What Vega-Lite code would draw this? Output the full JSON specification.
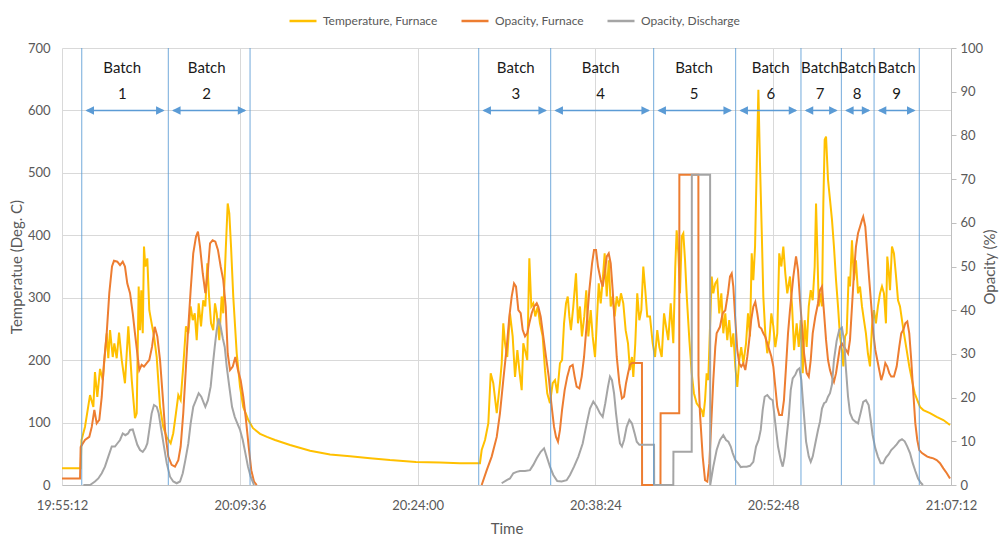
{
  "$schema": "https://vega.github.io/schema/vega-lite/v6.json",
  "width": 889,
  "height": 437,
  "autosize": {"type": "none"},
  "padding": {"left": 62, "top": 48, "right": 48, "bottom": 55},
  "background": "white",
  "config": {
    "view": {"stroke": null},
    "font": "Lato",
    "axis": {
      "labelFont": "Lato",
      "titleFont": "Lato",
      "labelColor": "#595959",
      "titleColor": "#595959",
      "titleFontWeight": "normal",
      "labelFontSize": 13,
      "titleFontSize": 15,
      "gridColor": "#d9d9d9",
      "domainColor": "#bfbfbf",
      "tickColor": "#bfbfbf"
    }
  },
  "datasets": {
    "temp": [
      {"t":0,"v":27},{"t":1.51,"v":27},{"t":1.58,"v":72},{"t":1.86,"v":93},{"t":2.27,"v":144},{"t":2.54,"v":125},{"t":2.67,"v":181},{"t":2.86,"v":141},{"t":3.08,"v":186},{"t":3.30,"v":168},{"t":3.48,"v":211},{"t":3.62,"v":243},{"t":3.75,"v":203},{"t":3.89,"v":248},{"t":4.11,"v":205},{"t":4.24,"v":227},{"t":4.43,"v":203},{"t":4.62,"v":244},{"t":4.84,"v":200},{"t":5.10,"v":163},{"t":5.37,"v":254},{"t":5.65,"v":168},{"t":5.91,"v":107},{"t":6.05,"v":115},{"t":6.21,"v":318},{"t":6.32,"v":248},{"t":6.42,"v":312},{"t":6.54,"v":243},{"t":6.64,"v":382},{"t":6.75,"v":350},{"t":6.91,"v":363},{"t":7.07,"v":280},{"t":7.26,"v":259},{"t":7.45,"v":238},{"t":7.67,"v":205},{"t":7.94,"v":125},{"t":8.20,"v":93},{"t":8.48,"v":77},{"t":8.80,"v":67},{"t":9.01,"v":83},{"t":9.23,"v":115},{"t":9.42,"v":144},{"t":9.61,"v":136},{"t":9.82,"v":190},{"t":10.04,"v":254},{"t":10.23,"v":243},{"t":10.42,"v":286},{"t":10.59,"v":264},{"t":10.75,"v":275},{"t":10.91,"v":232},{"t":11.07,"v":291},{"t":11.26,"v":254},{"t":11.44,"v":296},{"t":11.61,"v":286},{"t":11.77,"v":355},{"t":11.91,"v":302},{"t":12.07,"v":259},{"t":12.25,"v":248},{"t":12.39,"v":291},{"t":12.53,"v":275},{"t":12.74,"v":232},{"t":12.93,"v":302},{"t":13.06,"v":275},{"t":13.26,"v":376},{"t":13.42,"v":451},{"t":13.55,"v":435},{"t":13.69,"v":382},{"t":13.87,"v":302},{"t":14.15,"v":211},{"t":14.42,"v":157},{"t":14.68,"v":125},{"t":15.09,"v":104},{"t":15.47,"v":91},{"t":16.04,"v":82},{"t":16.60,"v":77},{"t":17.25,"v":72},{"t":18.47,"v":64},{"t":20.09,"v":55},{"t":21.71,"v":49},{"t":23.33,"v":46},{"t":24.95,"v":43},{"t":26.56,"v":40},{"t":28.67,"v":37},{"t":30.61,"v":36},{"t":32.23,"v":35},{"t":33.85,"v":35},
      {"t":33.99,"v":56},{"t":34.26,"v":72},{"t":34.53,"v":99},{"t":34.72,"v":179},{"t":34.93,"v":163},{"t":35.21,"v":115},{"t":35.47,"v":163},{"t":35.61,"v":195},{"t":35.74,"v":259},{"t":35.88,"v":227},{"t":36.06,"v":205},{"t":36.28,"v":275},{"t":36.50,"v":238},{"t":36.69,"v":173},{"t":36.88,"v":216},{"t":37.04,"v":184},{"t":37.23,"v":152},{"t":37.36,"v":227},{"t":37.50,"v":216},{"t":37.68,"v":200},{"t":37.85,"v":363},{"t":38.01,"v":286},{"t":38.17,"v":291},{"t":38.33,"v":270},{"t":38.53,"v":286},{"t":38.71,"v":259},{"t":38.93,"v":238},{"t":39.12,"v":184},{"t":39.30,"v":147},{"t":39.52,"v":131},{"t":39.74,"v":163},{"t":39.93,"v":168},{"t":40.11,"v":147},{"t":40.33,"v":195},{"t":40.50,"v":200},{"t":40.66,"v":259},{"t":40.82,"v":291},{"t":40.96,"v":302},{"t":41.09,"v":270},{"t":41.22,"v":248},{"t":41.41,"v":286},{"t":41.63,"v":339},{"t":41.79,"v":259},{"t":41.95,"v":286},{"t":42.11,"v":238},{"t":42.30,"v":270},{"t":42.46,"v":312},{"t":42.63,"v":238},{"t":42.82,"v":280},{"t":42.98,"v":238},{"t":43.17,"v":205},{"t":43.31,"v":259},{"t":43.47,"v":323},{"t":43.63,"v":291},{"t":43.79,"v":328},{"t":43.95,"v":371},{"t":44.12,"v":302},{"t":44.28,"v":360},{"t":44.44,"v":286},{"t":44.60,"v":302},{"t":44.76,"v":270},{"t":44.93,"v":302},{"t":45.11,"v":286},{"t":45.27,"v":307},{"t":45.46,"v":291},{"t":45.65,"v":248},{"t":45.84,"v":227},{"t":46.00,"v":184},{"t":46.16,"v":205},{"t":46.27,"v":173},{"t":46.43,"v":227},{"t":46.59,"v":307},{"t":46.76,"v":264},{"t":46.92,"v":280},{"t":47.08,"v":350},{"t":47.24,"v":312},{"t":47.40,"v":270},{"t":47.62,"v":270},{"t":47.84,"v":227},{"t":48.03,"v":205},{"t":48.21,"v":248},{"t":48.38,"v":221},{"t":48.57,"v":205},{"t":48.76,"v":275},{"t":48.92,"v":254},{"t":49.10,"v":232},{"t":49.30,"v":291},{"t":49.51,"v":227},{"t":49.67,"v":350},{"t":49.78,"v":408},{"t":49.92,"v":371},{"t":50.05,"v":307},{"t":50.19,"v":398},{"t":50.32,"v":403},{"t":50.46,"v":360},{"t":50.60,"v":302},{"t":50.81,"v":232},{"t":51.00,"v":179},{"t":51.18,"v":147},{"t":51.40,"v":131},{"t":51.61,"v":125},{"t":51.81,"v":120},{"t":51.94,"v":109},{"t":52.08,"v":136},{"t":52.21,"v":179},{"t":52.34,"v":168},{"t":52.62,"v":334},{"t":52.75,"v":307},{"t":52.91,"v":323},{"t":53.07,"v":328},{"t":53.23,"v":275},{"t":53.40,"v":307},{"t":53.56,"v":243},{"t":53.72,"v":275},{"t":53.88,"v":232},{"t":54.04,"v":264},{"t":54.21,"v":221},{"t":54.37,"v":243},{"t":54.53,"v":190},{"t":54.69,"v":157},{"t":54.85,"v":200},{"t":55.01,"v":221},{"t":55.18,"v":195},{"t":55.40,"v":227},{"t":55.56,"v":275},{"t":55.72,"v":238},{"t":55.86,"v":371},{"t":55.99,"v":328},{"t":56.13,"v":382},{"t":56.27,"v":515},{"t":56.40,"v":633},{"t":56.53,"v":515},{"t":56.67,"v":408},{"t":56.80,"v":302},{"t":56.96,"v":243},{"t":57.12,"v":211},{"t":57.29,"v":232},{"t":57.45,"v":275},{"t":57.61,"v":254},{"t":57.77,"v":221},{"t":57.93,"v":243},{"t":58.09,"v":371},{"t":58.26,"v":350},{"t":58.42,"v":382},{"t":58.58,"v":339},{"t":58.74,"v":307},{"t":58.96,"v":334},{"t":59.13,"v":286},{"t":59.29,"v":216},{"t":59.50,"v":259},{"t":59.67,"v":221},{"t":59.83,"v":264},{"t":59.99,"v":179},{"t":60.15,"v":264},{"t":60.31,"v":221},{"t":60.48,"v":286},{"t":60.64,"v":312},{"t":60.80,"v":296},{"t":60.96,"v":350},{"t":61.07,"v":451},{"t":61.18,"v":371},{"t":61.29,"v":286},{"t":61.40,"v":307},{"t":61.55,"v":286},{"t":61.66,"v":451},{"t":61.77,"v":553},{"t":61.88,"v":558},{"t":62.04,"v":489},{"t":62.20,"v":457},{"t":62.36,"v":425},{"t":62.52,"v":382},{"t":62.69,"v":328},{"t":62.85,"v":286},{"t":63.01,"v":238},{"t":63.17,"v":216},{"t":63.28,"v":190},{"t":63.42,"v":238},{"t":63.55,"v":243},{"t":63.71,"v":334},{"t":63.82,"v":318},{"t":63.98,"v":392},{"t":64.14,"v":328},{"t":64.30,"v":360},{"t":64.47,"v":307},{"t":64.63,"v":318},{"t":64.79,"v":286},{"t":64.95,"v":264},{"t":65.11,"v":243},{"t":65.27,"v":211},{"t":65.44,"v":190},{"t":65.60,"v":254},{"t":65.76,"v":280},{"t":65.92,"v":259},{"t":66.08,"v":286},{"t":66.25,"v":307},{"t":66.41,"v":318},{"t":66.57,"v":307},{"t":66.73,"v":259},{"t":66.84,"v":366},{"t":66.95,"v":344},{"t":67.06,"v":312},{"t":67.22,"v":382},{"t":67.38,"v":371},{"t":67.55,"v":334},{"t":67.71,"v":296},{"t":67.87,"v":286},{"t":68.03,"v":264},{"t":68.19,"v":243},{"t":68.41,"v":216},{"t":68.62,"v":190},{"t":68.84,"v":168},{"t":69.06,"v":147},{"t":69.27,"v":136},{"t":69.49,"v":125},{"t":69.76,"v":120},{"t":70.30,"v":115},{"t":70.84,"v":109},{"t":71.38,"v":104},{"t":71.92,"v":96}
    ],
    "opf": [
      {"t":0,"v":1.5,"g":1},{"t":1.46,"v":1.5,"g":1},{"t":1.51,"v":8.7,"g":1},{"t":1.86,"v":10.3,"g":1},{"t":2.21,"v":11,"g":1},{"t":2.41,"v":13.3,"g":1},{"t":2.62,"v":17.2,"g":1},{"t":2.81,"v":14.1,"g":1},{"t":3.02,"v":14.9,"g":1},{"t":3.22,"v":20.2,"g":1},{"t":3.40,"v":27.9,"g":1},{"t":3.62,"v":34.7,"g":1},{"t":3.83,"v":43.9,"g":1},{"t":4.05,"v":50,"g":1},{"t":4.21,"v":51.3,"g":1},{"t":4.48,"v":51.1,"g":1},{"t":4.70,"v":50.3,"g":1},{"t":4.92,"v":51.1,"g":1},{"t":5.10,"v":50,"g":1},{"t":5.29,"v":46.1,"g":1},{"t":5.51,"v":43.9,"g":1},{"t":5.73,"v":39.3,"g":1},{"t":5.91,"v":34.7,"g":1},{"t":6.10,"v":30.1,"g":1},{"t":6.26,"v":26.3,"g":1},{"t":6.45,"v":27.5,"g":1},{"t":6.64,"v":27.1,"g":1},{"t":6.86,"v":27.9,"g":1},{"t":7.07,"v":28.6,"g":1},{"t":7.29,"v":31.6,"g":1},{"t":7.51,"v":36.2,"g":1},{"t":7.72,"v":34,"g":1},{"t":7.94,"v":28.6,"g":1},{"t":8.16,"v":20.2,"g":1},{"t":8.37,"v":11.8,"g":1},{"t":8.61,"v":6.5,"g":1},{"t":8.88,"v":4.6,"g":1},{"t":9.15,"v":4.2,"g":1},{"t":9.42,"v":5.7,"g":1},{"t":9.61,"v":8.8,"g":1},{"t":9.82,"v":16.4,"g":1},{"t":10.04,"v":27.1,"g":1},{"t":10.23,"v":36.2,"g":1},{"t":10.42,"v":44.6,"g":1},{"t":10.63,"v":53,"g":1},{"t":10.85,"v":56.8,"g":1},{"t":11.01,"v":58,"g":1},{"t":11.18,"v":54.5,"g":1},{"t":11.40,"v":48.4,"g":1},{"t":11.61,"v":43.9,"g":1},{"t":11.82,"v":49.2,"g":1},{"t":11.99,"v":55.3,"g":1},{"t":12.20,"v":56,"g":1},{"t":12.42,"v":55.7,"g":1},{"t":12.63,"v":53.8,"g":1},{"t":12.85,"v":50,"g":1},{"t":13.06,"v":46.9,"g":1},{"t":13.26,"v":40.8,"g":1},{"t":13.42,"v":30.1,"g":1},{"t":13.61,"v":26.3,"g":1},{"t":13.83,"v":27.1,"g":1},{"t":14.04,"v":29.3,"g":1},{"t":14.25,"v":26.3,"g":1},{"t":14.47,"v":24,"g":1},{"t":14.68,"v":20.2,"g":1},{"t":14.90,"v":14.9,"g":1},{"t":15.12,"v":8.8,"g":1},{"t":15.33,"v":3.4,"g":1},{"t":15.55,"v":0.8,"g":1},{"t":15.77,"v":0,"g":1},
      {"t":33.99,"v":0,"g":2},{"t":34.40,"v":3.4,"g":2},{"t":34.80,"v":6.5,"g":2},{"t":35.21,"v":11,"g":2},{"t":35.47,"v":16.4,"g":2},{"t":35.74,"v":24,"g":2},{"t":36.02,"v":31.6,"g":2},{"t":36.23,"v":38.5,"g":2},{"t":36.42,"v":43.1,"g":2},{"t":36.61,"v":46.1,"g":2},{"t":36.77,"v":45.4,"g":2},{"t":36.96,"v":40,"g":2},{"t":37.15,"v":39.3,"g":2},{"t":37.31,"v":35.5,"g":2},{"t":37.50,"v":34,"g":2},{"t":37.68,"v":34.7,"g":2},{"t":37.85,"v":37,"g":2},{"t":38.04,"v":39.3,"g":2},{"t":38.23,"v":40.8,"g":2},{"t":38.45,"v":41.6,"g":2},{"t":38.58,"v":40.8,"g":2},{"t":38.77,"v":38.5,"g":2},{"t":38.98,"v":34,"g":2},{"t":39.20,"v":29.3,"g":2},{"t":39.42,"v":24.8,"g":2},{"t":39.63,"v":18.7,"g":2},{"t":39.85,"v":13.3,"g":2},{"t":40.01,"v":11,"g":2},{"t":40.17,"v":9.9,"g":2},{"t":40.33,"v":12.6,"g":2},{"t":40.50,"v":17.2,"g":2},{"t":40.71,"v":21.7,"g":2},{"t":40.92,"v":24.8,"g":2},{"t":41.14,"v":27.1,"g":2},{"t":41.36,"v":27.5,"g":2},{"t":41.52,"v":24.8,"g":2},{"t":41.68,"v":22.5,"g":2},{"t":41.90,"v":22.1,"g":2},{"t":42.09,"v":24.8,"g":2},{"t":42.28,"v":29.3,"g":2},{"t":42.50,"v":37,"g":2},{"t":42.71,"v":44.6,"g":2},{"t":42.93,"v":50.7,"g":2},{"t":43.09,"v":53.8,"g":2},{"t":43.25,"v":53.8,"g":2},{"t":43.41,"v":50,"g":2},{"t":43.63,"v":46.9,"g":2},{"t":43.79,"v":45.4,"g":2},{"t":43.95,"v":48.4,"g":2},{"t":44.12,"v":52.3,"g":2},{"t":44.28,"v":53,"g":2},{"t":44.44,"v":50.7,"g":2},{"t":44.60,"v":44.6,"g":2},{"t":44.76,"v":37,"g":2},{"t":44.93,"v":29.3,"g":2},{"t":45.14,"v":23.3,"g":2},{"t":45.35,"v":19.8,"g":2},{"t":45.52,"v":20.2,"g":2},{"t":45.68,"v":23.3,"g":2},{"t":45.84,"v":25.5,"g":2},{"t":46.00,"v":27.5,"g":2},{"t":46.16,"v":27.9,"g":2},{"t":46.97,"v":27.9,"g":2},{"t":46.98,"v":0,"g":2},{"t":48.47,"v":0,"g":2},{"t":48.48,"v":16.4,"g":2},{"t":49.99,"v":16.4,"g":2},{"t":50.00,"v":71,"g":2},{"t":51.54,"v":71,"g":2},{"t":51.55,"v":25,"g":2},{"t":51.67,"v":16.4,"g":2},{"t":51.89,"v":6.5,"g":2},{"t":52.08,"v":1.1,"g":2},{"t":52.26,"v":0.8,"g":2},{"t":52.43,"v":5,"g":2},{"t":52.62,"v":16.4,"g":2},{"t":52.75,"v":24,"g":2},{"t":52.91,"v":31.6,"g":2},{"t":53.02,"v":34.7,"g":2},{"t":53.29,"v":36.2,"g":2},{"t":53.51,"v":39.3,"g":2},{"t":53.72,"v":40,"g":2},{"t":53.94,"v":43.9,"g":2},{"t":54.10,"v":47.7,"g":2},{"t":54.24,"v":48.4,"g":2},{"t":54.37,"v":45.4,"g":2},{"t":54.53,"v":37.8,"g":2},{"t":54.69,"v":30.9,"g":2},{"t":54.85,"v":27.8,"g":2},{"t":55.01,"v":27.1,"g":2},{"t":55.18,"v":27.8,"g":2},{"t":55.34,"v":26.3,"g":2},{"t":55.50,"v":29.3,"g":2},{"t":55.66,"v":33.2,"g":2},{"t":55.82,"v":37.8,"g":2},{"t":55.99,"v":40.8,"g":2},{"t":56.15,"v":41.9,"g":2},{"t":56.31,"v":39.3,"g":2},{"t":56.47,"v":36.2,"g":2},{"t":56.64,"v":35.8,"g":2},{"t":56.80,"v":34.7,"g":2},{"t":56.96,"v":33.9,"g":2},{"t":57.12,"v":32.4,"g":2},{"t":57.29,"v":30.9,"g":2},{"t":57.45,"v":29.4,"g":2},{"t":57.61,"v":27.1,"g":2},{"t":57.77,"v":22.5,"g":2},{"t":57.93,"v":17.9,"g":2},{"t":58.09,"v":16,"g":2},{"t":58.31,"v":16,"g":2},{"t":58.47,"v":19.4,"g":2},{"t":58.64,"v":27.1,"g":2},{"t":58.80,"v":34.7,"g":2},{"t":58.96,"v":40,"g":2},{"t":59.23,"v":47.7,"g":2},{"t":59.45,"v":52.3,"g":2},{"t":59.61,"v":49.2,"g":2},{"t":59.77,"v":42.3,"g":2},{"t":59.94,"v":36.2,"g":2},{"t":60.10,"v":30.1,"g":2},{"t":60.31,"v":25.6,"g":2},{"t":60.48,"v":24.8,"g":2},{"t":60.64,"v":28.6,"g":2},{"t":60.80,"v":34.7,"g":2},{"t":61.01,"v":38.5,"g":2},{"t":61.23,"v":41.6,"g":2},{"t":61.39,"v":44.6,"g":2},{"t":61.55,"v":45.4,"g":2},{"t":61.72,"v":39.3,"g":2},{"t":61.88,"v":33.2,"g":2},{"t":62.04,"v":28.6,"g":2},{"t":62.20,"v":26.3,"g":2},{"t":62.36,"v":24.8,"g":2},{"t":62.52,"v":23.6,"g":2},{"t":62.69,"v":25.6,"g":2},{"t":62.85,"v":28.6,"g":2},{"t":63.01,"v":31.6,"g":2},{"t":63.17,"v":32.4,"g":2},{"t":63.34,"v":31.6,"g":2},{"t":63.50,"v":30.9,"g":2},{"t":63.66,"v":30.1,"g":2},{"t":63.82,"v":33.2,"g":2},{"t":63.98,"v":40.8,"g":2},{"t":64.14,"v":48.4,"g":2},{"t":64.30,"v":54.5,"g":2},{"t":64.47,"v":57.6,"g":2},{"t":64.63,"v":59.1,"g":2},{"t":64.79,"v":60.6,"g":2},{"t":64.89,"v":61.4,"g":2},{"t":65.06,"v":59.1,"g":2},{"t":65.22,"v":53,"g":2},{"t":65.38,"v":46.9,"g":2},{"t":65.55,"v":40.8,"g":2},{"t":65.71,"v":34.7,"g":2},{"t":65.87,"v":30.9,"g":2},{"t":66.03,"v":28.6,"g":2},{"t":66.19,"v":26.3,"g":2},{"t":66.35,"v":24,"g":2},{"t":66.52,"v":25.6,"g":2},{"t":66.68,"v":27.9,"g":2},{"t":66.84,"v":27.1,"g":2},{"t":67.00,"v":25.6,"g":2},{"t":67.16,"v":24.8,"g":2},{"t":67.38,"v":24.8,"g":2},{"t":67.60,"v":27.1,"g":2},{"t":67.81,"v":31.6,"g":2},{"t":67.97,"v":34.7,"g":2},{"t":68.14,"v":35.5,"g":2},{"t":68.30,"v":37,"g":2},{"t":68.46,"v":37.4,"g":2},{"t":68.62,"v":34.7,"g":2},{"t":68.78,"v":28.6,"g":2},{"t":68.95,"v":21,"g":2},{"t":69.11,"v":14.1,"g":2},{"t":69.27,"v":10.3,"g":2},{"t":69.43,"v":8,"g":2},{"t":69.65,"v":7.3,"g":2},{"t":69.87,"v":6.9,"g":2},{"t":70.08,"v":6.5,"g":2},{"t":70.30,"v":6.3,"g":2},{"t":70.57,"v":6.1,"g":2},{"t":70.84,"v":5.7,"g":2},{"t":71.11,"v":5,"g":2},{"t":71.38,"v":3.8,"g":2},{"t":71.66,"v":2.7,"g":2},{"t":71.92,"v":1.5,"g":2}
    ],
    "opd": [
      {"t":1.73,"v":0,"g":1},{"t":2.27,"v":0,"g":1},{"t":2.67,"v":0.8,"g":1},{"t":2.94,"v":1.5,"g":1},{"t":3.22,"v":2.7,"g":1},{"t":3.48,"v":4.2,"g":1},{"t":3.75,"v":6.5,"g":1},{"t":4.03,"v":8.8,"g":1},{"t":4.29,"v":8.8,"g":1},{"t":4.48,"v":9.5,"g":1},{"t":4.70,"v":10.3,"g":1},{"t":4.92,"v":11.8,"g":1},{"t":5.13,"v":11.4,"g":1},{"t":5.35,"v":11.8,"g":1},{"t":5.51,"v":12.6,"g":1},{"t":5.73,"v":12.7,"g":1},{"t":5.91,"v":11,"g":1},{"t":6.10,"v":9.2,"g":1},{"t":6.32,"v":8,"g":1},{"t":6.54,"v":7.6,"g":1},{"t":6.75,"v":8.4,"g":1},{"t":6.91,"v":9.5,"g":1},{"t":7.07,"v":12.6,"g":1},{"t":7.26,"v":16.4,"g":1},{"t":7.45,"v":18.3,"g":1},{"t":7.67,"v":17.9,"g":1},{"t":7.83,"v":16.4,"g":1},{"t":8.04,"v":12.6,"g":1},{"t":8.26,"v":8.8,"g":1},{"t":8.48,"v":5,"g":1},{"t":8.75,"v":1.9,"g":1},{"t":9.01,"v":0.8,"g":1},{"t":9.29,"v":0.4,"g":1},{"t":9.56,"v":0.8,"g":1},{"t":9.78,"v":2.7,"g":1},{"t":9.99,"v":5.7,"g":1},{"t":10.23,"v":9.5,"g":1},{"t":10.42,"v":14.1,"g":1},{"t":10.63,"v":17.9,"g":1},{"t":10.85,"v":19.4,"g":1},{"t":11.07,"v":21,"g":1},{"t":11.28,"v":20.2,"g":1},{"t":11.44,"v":19.1,"g":1},{"t":11.61,"v":17.9,"g":1},{"t":11.82,"v":19.4,"g":1},{"t":12.04,"v":22.5,"g":1},{"t":12.20,"v":27.1,"g":1},{"t":12.37,"v":31.6,"g":1},{"t":12.53,"v":35.5,"g":1},{"t":12.69,"v":38.1,"g":1},{"t":12.85,"v":36.2,"g":1},{"t":13.02,"v":33.6,"g":1},{"t":13.18,"v":31.6,"g":1},{"t":13.34,"v":27.1,"g":1},{"t":13.55,"v":22.5,"g":1},{"t":13.77,"v":17.9,"g":1},{"t":13.99,"v":15.6,"g":1},{"t":14.20,"v":14.1,"g":1},{"t":14.42,"v":12.6,"g":1},{"t":14.64,"v":10.3,"g":1},{"t":14.85,"v":7.3,"g":1},{"t":15.06,"v":4.2,"g":1},{"t":15.28,"v":1.9,"g":1},{"t":15.44,"v":0.8,"g":1},{"t":15.55,"v":0,"g":1},
      {"t":35.61,"v":0.4,"g":2},{"t":36.02,"v":1.1,"g":2},{"t":36.28,"v":1.5,"g":2},{"t":36.55,"v":2.7,"g":2},{"t":36.82,"v":3,"g":2},{"t":37.09,"v":3.2,"g":2},{"t":37.50,"v":3.2,"g":2},{"t":37.90,"v":3.4,"g":2},{"t":38.17,"v":4.6,"g":2},{"t":38.45,"v":6.1,"g":2},{"t":38.77,"v":7.6,"g":2},{"t":39.04,"v":8.4,"g":2},{"t":39.26,"v":6.5,"g":2},{"t":39.52,"v":4.2,"g":2},{"t":39.79,"v":2.3,"g":2},{"t":40.11,"v":0.9,"g":2},{"t":40.47,"v":0.8,"g":2},{"t":40.87,"v":1.1,"g":2},{"t":41.14,"v":2.3,"g":2},{"t":41.47,"v":4.2,"g":2},{"t":41.82,"v":6.5,"g":2},{"t":42.17,"v":9.5,"g":2},{"t":42.50,"v":14.1,"g":2},{"t":42.76,"v":17.5,"g":2},{"t":43.03,"v":19.1,"g":2},{"t":43.31,"v":17.9,"g":2},{"t":43.57,"v":16.4,"g":2},{"t":43.79,"v":15.6,"g":2},{"t":44.00,"v":18.7,"g":2},{"t":44.22,"v":22.5,"g":2},{"t":44.38,"v":24.8,"g":2},{"t":44.54,"v":24,"g":2},{"t":44.71,"v":21,"g":2},{"t":44.87,"v":16.4,"g":2},{"t":45.03,"v":12.6,"g":2},{"t":45.19,"v":9.5,"g":2},{"t":45.35,"v":8.8,"g":2},{"t":45.52,"v":10.3,"g":2},{"t":45.73,"v":13.3,"g":2},{"t":45.95,"v":14.9,"g":2},{"t":46.16,"v":14.1,"g":2},{"t":46.38,"v":11.8,"g":2},{"t":46.55,"v":9.9,"g":2},{"t":46.76,"v":9.2,"g":2},{"t":47.95,"v":9.2,"g":2},{"t":47.96,"v":0,"g":2},{"t":49.51,"v":0,"g":2},{"t":49.52,"v":7.6,"g":2},{"t":51.00,"v":7.6,"g":2},{"t":51.01,"v":71,"g":2},{"t":52.49,"v":71,"g":2},{"t":52.50,"v":0,"g":2},{"t":52.75,"v":4.2,"g":2},{"t":53.02,"v":8,"g":2},{"t":53.29,"v":10.3,"g":2},{"t":53.56,"v":11.4,"g":2},{"t":53.78,"v":10.3,"g":2},{"t":53.97,"v":9.9,"g":2},{"t":54.16,"v":8.8,"g":2},{"t":54.32,"v":7.3,"g":2},{"t":54.53,"v":5.7,"g":2},{"t":54.75,"v":5,"g":2},{"t":54.97,"v":4.1,"g":2},{"t":55.18,"v":4.2,"g":2},{"t":55.45,"v":4.2,"g":2},{"t":55.72,"v":4.4,"g":2},{"t":55.99,"v":5.3,"g":2},{"t":56.21,"v":8.8,"g":2},{"t":56.42,"v":10.3,"g":2},{"t":56.59,"v":12.6,"g":2},{"t":56.75,"v":17.2,"g":2},{"t":56.91,"v":20.2,"g":2},{"t":57.12,"v":20.6,"g":2},{"t":57.34,"v":19.8,"g":2},{"t":57.56,"v":19.4,"g":2},{"t":57.77,"v":14.1,"g":2},{"t":57.99,"v":8.8,"g":2},{"t":58.21,"v":5.7,"g":2},{"t":58.37,"v":4.2,"g":2},{"t":58.53,"v":6.5,"g":2},{"t":58.69,"v":11,"g":2},{"t":58.86,"v":15.6,"g":2},{"t":59.02,"v":21.7,"g":2},{"t":59.18,"v":24.4,"g":2},{"t":59.39,"v":25.2,"g":2},{"t":59.55,"v":26.3,"g":2},{"t":59.72,"v":26.7,"g":2},{"t":59.88,"v":24,"g":2},{"t":60.04,"v":18,"g":2},{"t":60.26,"v":10,"g":2},{"t":60.48,"v":6.5,"g":2},{"t":60.64,"v":5.3,"g":2},{"t":60.80,"v":6.5,"g":2},{"t":61.01,"v":9.5,"g":2},{"t":61.23,"v":12.6,"g":2},{"t":61.39,"v":14.5,"g":2},{"t":61.55,"v":17.5,"g":2},{"t":61.72,"v":18.7,"g":2},{"t":61.88,"v":19,"g":2},{"t":62.04,"v":20.2,"g":2},{"t":62.20,"v":21,"g":2},{"t":62.36,"v":23,"g":2},{"t":62.52,"v":28.6,"g":2},{"t":62.74,"v":33,"g":2},{"t":62.95,"v":35.5,"g":2},{"t":63.17,"v":36,"g":2},{"t":63.34,"v":33,"g":2},{"t":63.50,"v":26.3,"g":2},{"t":63.66,"v":20.2,"g":2},{"t":63.82,"v":16.5,"g":2},{"t":64.04,"v":15,"g":2},{"t":64.25,"v":14.5,"g":2},{"t":64.47,"v":14.1,"g":2},{"t":64.68,"v":16.5,"g":2},{"t":64.89,"v":19,"g":2},{"t":65.11,"v":19.4,"g":2},{"t":65.33,"v":18.3,"g":2},{"t":65.49,"v":15,"g":2},{"t":65.65,"v":11.5,"g":2},{"t":65.86,"v":8.5,"g":2},{"t":66.08,"v":6.5,"g":2},{"t":66.30,"v":5,"g":2},{"t":66.51,"v":5,"g":2},{"t":66.73,"v":6.3,"g":2},{"t":66.95,"v":7,"g":2},{"t":67.16,"v":8,"g":2},{"t":67.38,"v":8.6,"g":2},{"t":67.60,"v":9.3,"g":2},{"t":67.81,"v":10.1,"g":2},{"t":68.03,"v":10.5,"g":2},{"t":68.25,"v":10,"g":2},{"t":68.46,"v":8.8,"g":2},{"t":68.68,"v":7.3,"g":2},{"t":68.90,"v":5,"g":2},{"t":69.11,"v":3.2,"g":2},{"t":69.33,"v":1.5,"g":2},{"t":69.55,"v":0.5,"g":2},{"t":69.73,"v":0,"g":2}
    ],
    "bounds": [
      {"t":1.60},{"t":8.61},{"t":15.23},{"t":33.75},{"t":39.58},{"t":47.92},{"t":54.56},{"t":59.85},{"t":63.12},{"t":65.77},{"t":69.43}
    ],
    "batches": [
      {"b":"1","s":1.60,"e":8.61,"m":4.88},
      {"b":"2","s":8.61,"e":15.23,"m":11.72},
      {"b":"3","s":33.75,"e":39.58,"m":36.75},
      {"b":"4","s":39.58,"e":47.92,"m":43.63},
      {"b":"5","s":47.92,"e":54.56,"m":51.19},
      {"b":"6","s":54.56,"e":59.85,"m":57.40},
      {"b":"7","s":59.85,"e":63.12,"m":61.39},
      {"b":"8","s":63.12,"e":65.77,"m":64.40},
      {"b":"9","s":65.77,"e":69.43,"m":67.60}
    ]
  },
  "layer": [
    {
      "data": {"name": "temp"},
      "mark": {"type": "line", "strokeWidth": 2},
      "encoding": {
        "x": {
          "field": "t", "type": "quantitative", "title": "Time",
          "scale": {"domain": [0, 72], "nice": false, "zero": false},
          "axis": {
            "values": [0, 14.4, 28.8, 43.2, 57.6, 72],
            "labelExpr": "['19:55:12','20:09:36','20:24:00','20:38:24','20:52:48','21:07:12'][round(datum.value/14.4)]",
            "grid": true, "ticks": false, "labelPadding": 14, "labelFlush": false,
            "titlePadding": 9, "domain": true
          }
        },
        "y": {
          "field": "v", "type": "quantitative", "title": "Temperatue (Deg. C)",
          "scale": {"domain": [0, 700], "nice": false},
          "axis": {
            "values": [0, 100, 200, 300, 400, 500, 600, 700],
            "grid": true, "ticks": false, "domain": false, "labelPadding": 12, "titlePadding": 3
          }
        },
        "color": {
          "datum": "Temperature, Furnace", "type": "nominal",
          "scale": {"domain": ["Temperature, Furnace", "Opacity, Furnace", "Opacity, Discharge"], "range": ["#FFC000", "#ED7D31", "#A5A5A5"]},
          "legend": {
            "orient": "none", "legendX": 226, "legendY": -42, "direction": "horizontal", "title": null,
            "symbolType": "stroke", "symbolSize": 729, "symbolStrokeWidth": 2.5,
            "labelFont": "Lato", "labelFontSize": 12, "labelColor": "#595959",
            "columnPadding": 18, "labelOffset": 5
          }
        }
      }
    },
    {
      "data": {"name": "opf"},
      "mark": {"type": "line", "strokeWidth": 2},
      "encoding": {
        "x": {"field": "t", "type": "quantitative", "title": "Time"},
        "y": {
          "field": "v", "type": "quantitative", "title": "Opacity (%)",
          "scale": {"domain": [0, 100], "nice": false},
          "axis": {
            "orient": "right", "values": [0, 10, 20, 30, 40, 50, 60, 70, 80, 90, 100],
            "grid": false, "ticks": true, "tickSize": 5, "domain": true, "labelPadding": 4,
            "titleAngle": -90, "titlePadding": 15
          }
        },
        "detail": {"field": "g", "type": "nominal"},
        "color": {"datum": "Opacity, Furnace", "type": "nominal"}
      }
    },
    {
      "data": {"name": "opd"},
      "mark": {"type": "line", "strokeWidth": 2},
      "encoding": {
        "x": {"field": "t", "type": "quantitative", "title": "Time"},
        "y": {"field": "v", "type": "quantitative", "scale": {"domain": [0, 100], "nice": false}, "axis": null},
        "detail": {"field": "g", "type": "nominal"},
        "color": {"datum": "Opacity, Discharge", "type": "nominal"}
      }
    },
    {
      "data": {"name": "bounds"},
      "mark": {"type": "rule", "color": "#5B9BD5", "strokeWidth": 1, "opacity": 0.85},
      "encoding": {
        "x": {"field": "t", "type": "quantitative", "title": "Time"}
      }
    },
    {
      "data": {"name": "batches"},
      "mark": {"type": "rule", "color": "#5B9BD5", "strokeWidth": 1.5, "xOffset": 5, "x2Offset": -5},
      "encoding": {
        "x": {"field": "s", "type": "quantitative", "title": "Time"},
        "x2": {"field": "e"},
        "y": {"datum": 600, "type": "quantitative", "scale": {"domain": [0, 700], "nice": false}, "axis": null}
      }
    },
    {
      "data": {"name": "batches"},
      "mark": {"type": "point", "shape": "M -1 0 L 1 -1 L 1 1 Z", "filled": true, "opacity": 1, "color": "#5B9BD5", "size": 72, "xOffset": 8},
      "encoding": {
        "x": {"field": "s", "type": "quantitative", "title": "Time"},
        "y": {"datum": 600, "type": "quantitative", "scale": {"domain": [0, 700], "nice": false}, "axis": null}
      }
    },
    {
      "data": {"name": "batches"},
      "mark": {"type": "point", "shape": "M 1 0 L -1 -1 L -1 1 Z", "filled": true, "opacity": 1, "color": "#5B9BD5", "size": 72, "xOffset": -8},
      "encoding": {
        "x": {"field": "e", "type": "quantitative", "title": "Time"},
        "y": {"datum": 600, "type": "quantitative", "scale": {"domain": [0, 700], "nice": false}, "axis": null}
      }
    },
    {
      "data": {"name": "batches"},
      "mark": {"type": "text", "text": "Batch", "font": "Lato", "fontSize": 15, "color": "#1a1a1a", "baseline": "middle", "align": "center"},
      "encoding": {
        "x": {"field": "m", "type": "quantitative", "title": "Time"},
        "y": {"datum": 668, "type": "quantitative", "scale": {"domain": [0, 700], "nice": false}, "axis": null}
      }
    },
    {
      "data": {"name": "batches"},
      "mark": {"type": "text", "font": "Lato", "fontSize": 15, "color": "#1a1a1a", "baseline": "middle", "align": "center"},
      "encoding": {
        "x": {"field": "m", "type": "quantitative", "title": "Time"},
        "y": {"datum": 627, "type": "quantitative", "scale": {"domain": [0, 700], "nice": false}, "axis": null},
        "text": {"field": "b", "type": "nominal"}
      }
    }
  ],
  "resolve": {"scale": {"y": "independent"}}
}
